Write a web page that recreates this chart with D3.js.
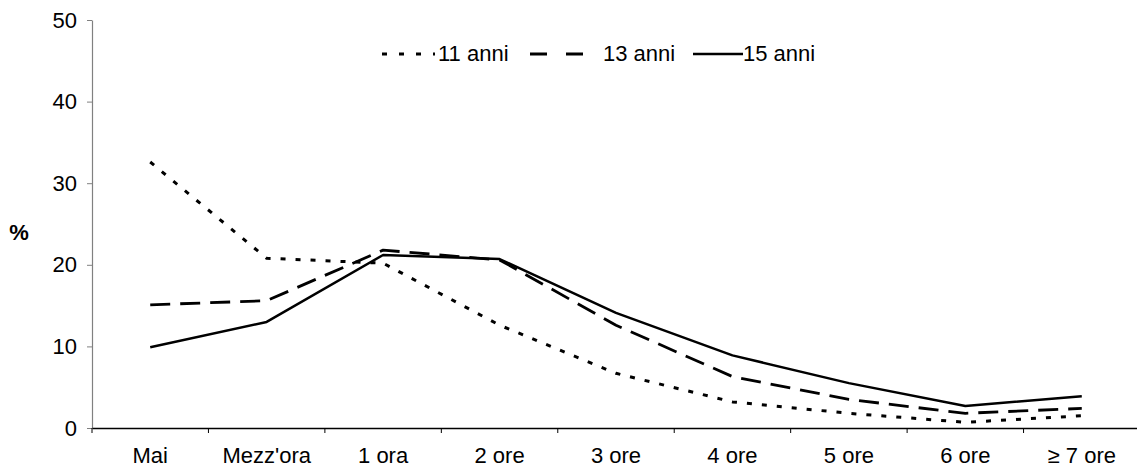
<!DOCTYPE html>
<html>
<head>
<meta charset="utf-8">
<script src="https://cdn.jsdelivr.net/npm/d3@7"></script>
<style>
  body { margin: 0; background: #fff; }
  text { font-family: "Liberation Sans", Arial, sans-serif; }
</style>
</head>
<body>
<svg id="chart" width="1137" height="468"></svg>
<script>
const categories = ["Mai", "Mezz'ora", "1 ora", "2 ore", "3 ore", "4 ore", "5 ore", "6 ore", "≥ 7 ore"];
const anni11 = [32.6, 20.8, 20.2, 12.6, 6.7, 3.2, 1.8, 0.7, 1.5];
const anni13 = [15.1, 15.6, 21.8, 20.6, 12.6, 6.3, 3.5, 1.8, 2.4];
const anni15 = [9.9, 13.0, 21.2, 20.7, 14.1, 8.9, 5.5, 2.7, 3.9];
const seriesNames = ["11 anni", "13 anni", "15 anni"];
const yTicks = [0, 10, 20, 30, 40, 50];

const svg = d3.select("#chart");
const mLeft = 92, mRight = 1140, mTop = 20, mBottom = 428;
const fontSize = 22;

const x = d3.scaleBand().domain(categories).range([mLeft, mRight]).padding(0);
const y = d3.scaleLinear().domain([0, 50]).range([mBottom, mTop]);

// Y axis
const yAxis = svg.append("g").attr("transform", `translate(${mLeft},0)`)
  .call(d3.axisLeft(y).tickValues(yTicks).tickSize(5).tickSizeOuter(0).tickPadding(10));
yAxis.select(".domain").attr("stroke", "#808080").attr("stroke-width", 1.2);
yAxis.selectAll(".tick line").attr("stroke", "#808080");
yAxis.selectAll(".tick text").attr("font-size", fontSize).attr("fill", "#000")
  .attr("font-family", "Liberation Sans, Arial, sans-serif");

// X axis
const xAxis = svg.append("g").attr("transform", `translate(0,${mBottom})`)
  .call(d3.axisBottom(x).tickSize(0).tickPadding(19));
xAxis.select(".domain").attr("stroke", "#000").attr("stroke-width", 1.3);
xAxis.selectAll(".tick text").attr("font-size", fontSize).attr("fill", "#000")
  .attr("font-family", "Liberation Sans, Arial, sans-serif");
svg.append("g").selectAll("line").data(categories).join("line")
  .attr("x1", d => x(d)).attr("x2", d => x(d))
  .attr("y1", mBottom).attr("y2", mBottom + 5)
  .attr("stroke", "#000").attr("stroke-width", 1);

// Y title
svg.append("text").attr("x", 19).attr("y", 240).attr("text-anchor", "middle")
  .attr("font-size", fontSize).attr("font-weight", "bold").text("%");

const seriesData = [anni11, anni13, anni15];
const dashes = ["5,10", "20,10", null];
const widths = [3, 2.8, 2.5];
const line = d3.line()
  .x((d, i) => x(categories[i]) + x.bandwidth() / 2)
  .y(d => y(d));

seriesData.forEach((vals, k) => {
  svg.append("path").datum(vals)
    .attr("d", line)
    .attr("fill", "none")
    .attr("stroke", "#000")
    .attr("stroke-width", widths[k])
    .attr("stroke-linejoin", "round")
    .attr("stroke-dasharray", dashes[k]);
});

// Legend
const legendItems = [
  { name: seriesNames[0], x1: 382, x2: 435, tx: 438, dash: "5,12", w: 3 },
  { name: seriesNames[1], x1: 530, x2: 584, tx: 603, dash: "17,19", w: 2.8 },
  { name: seriesNames[2], x1: 693, x2: 743, tx: 743, dash: null, w: 2.5 }
];
const lg = svg.append("g");
legendItems.forEach(it => {
  lg.append("line").attr("x1", it.x1).attr("x2", it.x2).attr("y1", 54).attr("y2", 54)
    .attr("stroke", "#000").attr("stroke-width", it.w).attr("stroke-dasharray", it.dash);
  lg.append("text").attr("x", it.tx).attr("y", 61).attr("font-size", fontSize).text(it.name);
});
</script>
</body>
</html>
